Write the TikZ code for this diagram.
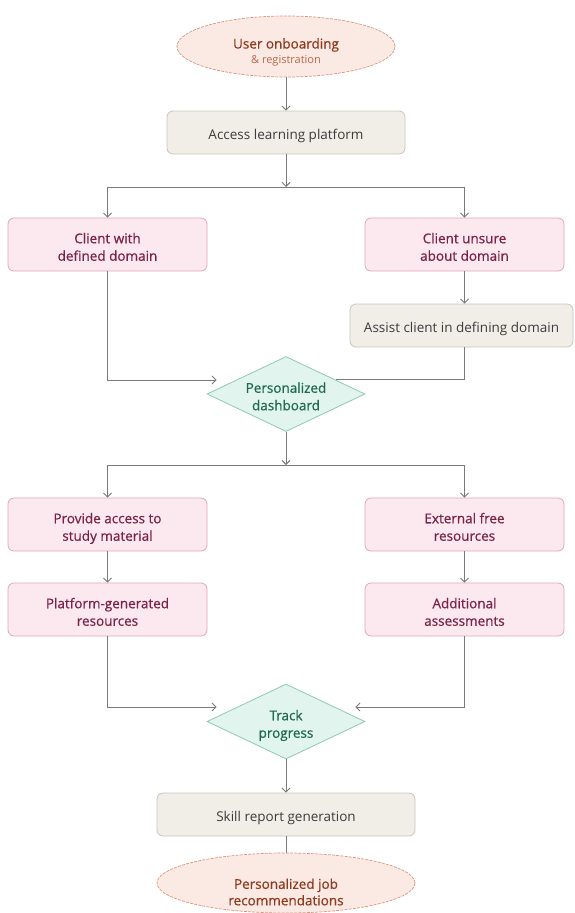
\documentclass[tikz,border=0pt]{standalone}
\usepackage{fontspec}
\setmainfont{Open Sans}
\newfontfamily\semibold[FakeBold=0.6]{Open Sans}
\usetikzlibrary{shapes.geometric,arrows.meta,calc}

\definecolor{lineGray}{HTML}{7A7A7A}
\definecolor{termFill}{HTML}{FBEAE4}
\definecolor{termDraw}{HTML}{D99580}
\definecolor{termText}{HTML}{8E3A1F}
\definecolor{termSub}{HTML}{B8674A}
\definecolor{stepFill}{HTML}{F1EEE8}
\definecolor{stepDraw}{HTML}{C9C5BD}
\definecolor{stepText}{HTML}{3C3C3C}
\definecolor{pinkFill}{HTML}{FCE9F0}
\definecolor{pinkDraw}{HTML}{E2A6BC}
\definecolor{pinkText}{HTML}{7A2347}
\definecolor{decFill}{HTML}{E1F4ED}
\definecolor{decDraw}{HTML}{8DCAB3}
\definecolor{decText}{HTML}{1E6A4E}

% centred lines of text, set a little below the optical centre of a box
\newcommand{\boxlines}[2][4pt]{\raisebox{-#1}[\height][\depth]{\begin{tabular}{@{}c@{}}#2\end{tabular}}}

\tikzset{
  terminal/.style={ellipse, fill=termFill, draw=termDraw, line width=0.7pt,
    dash pattern=on 3pt off 1.2pt, inner sep=0pt},
  graybox/.style={rectangle, rounded corners=6pt, fill=stepFill, draw=stepDraw,
    line width=0.8pt, text=stepText, font=\fontsize{13.5}{17.5}\selectfont,
    inner sep=0pt},
  pinkbox/.style={rectangle, rounded corners=6pt, fill=pinkFill, draw=pinkDraw,
    line width=0.8pt, text=pinkText, font=\semibold\fontsize{13.5}{17.5}\selectfont,
    inner sep=0pt, minimum width=199pt, minimum height=53pt},
  decision/.style={diamond, aspect=2.1, fill=decFill, draw=decDraw, line width=0.8pt,
    text=decText, font=\semibold\fontsize{13.5}{17.5}\selectfont,
    inner sep=0pt, minimum width=158pt, minimum height=75pt},
  conn/.style={draw=lineGray, line width=0.9pt},
  arr/.style={conn, -{Straight Barb[length=4pt,width=8pt,line width=0.9pt]}},
}

\begin{document}
\begin{tikzpicture}[x=1pt,y=-1pt]
\useasboundingbox (0,0) rectangle (574,913);

% start terminal
\node[terminal, minimum width=218pt, minimum height=61pt] (start) at (286,46.5) {};
\node[text=termText, font=\semibold\fontsize{13.5}{15}\selectfont] (startT) at (286,45) {User onboarding};
\node[text=termSub, font=\fontsize{11}{13}\selectfont] (startS) at (286,61) {\& registration};

\node[graybox, minimum width=238pt, minimum height=43pt] (access) at (286,132.5) {\boxlines[3pt]{Access learning platform}};
\coordinate (j1) at (286,187);

% domain branch
\node[pinkbox] (cw) at (107.5,244.5) {\boxlines{Client with\\defined domain}};
\node[pinkbox] (cu) at (464.5,244.5) {\boxlines{Client unsure\\about domain}};
\node[graybox, minimum width=223pt, minimum height=43pt] (assist) at (461.5,325.5) {\boxlines[3pt]{Assist client in defining domain}};

\node[decision] (dash) at (286,394) {\boxlines{Personalized\\dashboard}};
\coordinate (j2) at (286,465);

% resources
\node[pinkbox] (prov) at (107.5,524.5) {\boxlines{Provide access to\\study material}};
\node[pinkbox] (ext) at (464.5,524.5) {\boxlines{External free\\resources}};
\node[pinkbox] (plat) at (107.5,609.5) {\boxlines{Platform-generated\\resources}};
\node[pinkbox] (add) at (464.5,609.5) {\boxlines{Additional\\assessments}};

\node[decision] (track) at (286,721.5) {\boxlines{Track\\progress}};

\node[graybox, minimum width=258pt, minimum height=43pt] (skill) at (286,814.5) {\boxlines[3pt]{Skill report generation}};

% end terminal
\node[terminal, minimum width=258pt, minimum height=60pt] (finish) at (286,883) {};
\node[text=termText, font=\semibold\fontsize{13.5}{16.5}\selectfont, align=center] (finishT) at (286,892) {Personalized job\\recommendations};

% connectors
\draw[arr] (start.south) -- (access.north);
\draw[arr] (access.south) -- (j1);
\draw[arr] (j1) -| (cw.north);
\draw[arr] (j1) -| (cu.north);
\draw[arr] (cu.south) -- ($(assist.north)+(3,0)$);
\draw[arr] (cw.south) |- ($(dash.west)+(10,-14)$);
\draw[conn] ($(assist.south)+(3,0)$) |- ($(dash.east)!0.373!(dash.north)$);

\draw[arr] (dash.south) -- (j2);
\draw[arr] (j2) -| (prov.north);
\draw[arr] (j2) -| (ext.north);
\draw[arr] (prov.south) -- (plat.north);
\draw[arr] (ext.south) -- (add.north);
\draw[arr] (plat.south) |- ($(track.west)+(10,-14.5)$);
\draw[arr] (add.south) |- ($(track.east)+(-10,-14.5)$);

\draw[arr] (track.south) -- (skill.north);
\draw[conn] (skill.south) -- (finish.north);
\end{tikzpicture}
\end{document}
